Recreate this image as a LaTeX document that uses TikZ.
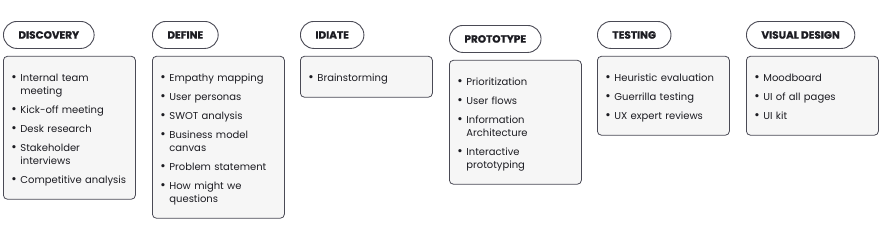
\documentclass[tikz,border=0pt]{standalone}
\usepackage{fontspec}
\setmainfont{Poppins}
\newfontfamily\headfont[FakeBold=1]{Poppins}
\usetikzlibrary{positioning}

\definecolor{edge}{HTML}{4A4A55}
\definecolor{panel}{HTML}{F6F6F6}
\definecolor{ink}{HTML}{1C1C22}

\newcommand\bitem[1]{\par\noindent\strut
  \makebox[9pt][l]{\raisebox{-0.3pt}{\fontsize{13}{13}\selectfont\textbullet}}#1\par}
\newcommand\bitemtwo[2]{\bitem{#1}\noindent\strut\hspace*{9pt}#2\par}
\newcommand\gap{\vspace{6pt}}

\begin{document}
\begin{tikzpicture}[
  x=1pt, y=1pt,
  phase/.style={draw=edge, fill=white, line width=0.9pt, rounded corners=13.5pt,
    minimum height=27pt, inner xsep=15pt, text=ink, anchor=north west,
    font=\fontsize{10.5}{12}\selectfont\headfont\bfseries},
  card/.style={draw=edge, fill=panel, line width=0.8pt, rounded corners=4pt,
    text width=116pt, inner xsep=8pt, inner ysep=12pt, text=ink,
    font=\fontsize{10}{13}\selectfont},
  below card/.style={below right=7pt and 0pt of #1.south west}
]
\useasboundingbox (0,0) rectangle (880,-236);

% phase titles
\node[phase] (disc) at (3,-21) {DISCOVERY};
\node[phase] (defn) at (152,-21) {DEFINE};
\node[phase] (idea) at (300,-21) {IDIATE};
\node[phase] (prot) at (449,-25) {PROTOTYPE};
\node[phase] (test) at (597,-21) {TESTING};
\node[phase] (visu) at (746,-21) {VISUAL DESIGN};

% activity cards
\node[card, below card=disc] (discbox) {%
  \bitemtwo{Internal team}{meeting}\gap
  \bitem{Kick-off meeting}\gap
  \bitem{Desk research}\gap
  \bitemtwo{Stakeholder}{interviews}\gap
  \bitem{Competitive analysis}};
\node[card, below card=defn] (defnbox) {%
  \bitem{Empathy mapping}\gap
  \bitem{User personas}\gap
  \bitem{SWOT analysis}\gap
  \bitemtwo{Business model}{canvas}\gap
  \bitem{Problem statement}\gap
  \bitemtwo{How might we}{questions}};
\node[card, below card=idea] (ideabox) {%
  \bitem{Brainstorming}};
\node[card, below card=prot] (protbox) {%
  \bitem{Prioritization}\gap
  \bitem{User flows}\gap
  \bitemtwo{Information}{Architecture}\gap
  \bitemtwo{Interactive}{prototyping}};
\node[card, below card=test] (testbox) {%
  \bitem{Heuristic evaluation}\gap
  \bitem{Guerrilla testing}\gap
  \bitem{UX expert reviews}};
\node[card, below card=visu] (visubox) {%
  \bitem{Moodboard}\gap
  \bitem{UI of all pages}\gap
  \bitem{UI kit}};
\end{tikzpicture}
\end{document}
